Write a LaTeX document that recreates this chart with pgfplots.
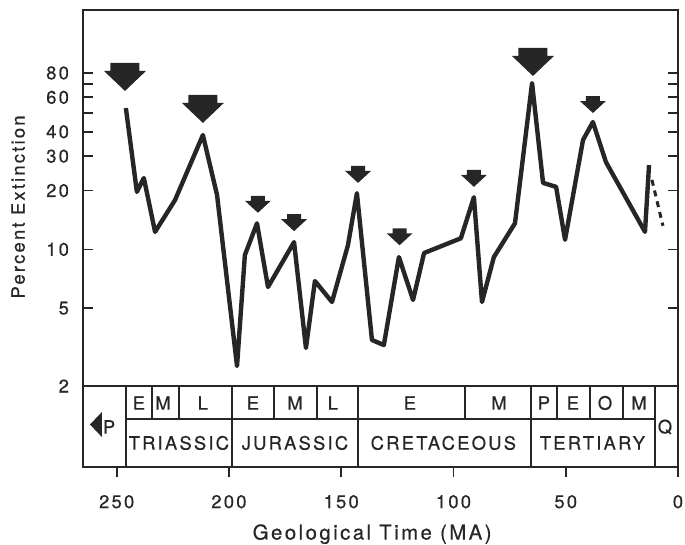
\documentclass[border=0pt]{standalone}
\usepackage{fontspec}
\setmainfont[LetterSpace=12, FakeBold=0.5]{TeX Gyre Heros}
\usepackage{pgfplots}
\pgfplotsset{compat=1.18}

% block arrows pointing down, tip at the data point
\pgfdeclareplotmark{bigdown}{%
  \pgfpathmoveto{\pgfpoint{0pt}{0pt}}%
  \pgfpathlineto{\pgfpoint{10.5pt}{10pt}}%
  \pgfpathlineto{\pgfpoint{7.25pt}{10pt}}%
  \pgfpathlineto{\pgfpoint{7.25pt}{14pt}}%
  \pgfpathlineto{\pgfpoint{-7.25pt}{14pt}}%
  \pgfpathlineto{\pgfpoint{-7.25pt}{10pt}}%
  \pgfpathlineto{\pgfpoint{-10.5pt}{10pt}}%
  \pgfpathclose
  \pgfusepathqfill}
\pgfdeclareplotmark{smalldown}{%
  \pgfpathmoveto{\pgfpoint{0pt}{0pt}}%
  \pgfpathlineto{\pgfpoint{6.5pt}{6pt}}%
  \pgfpathlineto{\pgfpoint{3.5pt}{6pt}}%
  \pgfpathlineto{\pgfpoint{3.5pt}{8.5pt}}%
  \pgfpathlineto{\pgfpoint{-3.5pt}{8.5pt}}%
  \pgfpathlineto{\pgfpoint{-3.5pt}{6pt}}%
  \pgfpathlineto{\pgfpoint{-6.5pt}{6pt}}%
  \pgfpathclose
  \pgfusepathqfill}

\begin{document}
\begin{tikzpicture}
\begin{axis}[
    name=ax,
    scale only axis,
    width=297.5pt, height=228.5pt,
    xmin=0, xmax=265, x dir=reverse,
    ymode=log, ymin=0.77, ymax=168,
    axis line style={line width=1pt, black!85},
    xtick={0,50,100,150,200,250},
    xticklabels={0,50,100,150,200,250},
    xtick pos=bottom,
    ytick={2,5,10,20,30,40,50,60,70,80},
    yticklabels={2,5,10,20,30,40,,60,,80},
    minor ytick={},
    major tick length=5pt,
    tick style={line width=0.9pt, black!85},
    x tick style={yshift=-5pt},
    ticklabel style={font=\fontsize{9.2}{11}\selectfont, black!85},
    xticklabel style={yshift=-10.5pt},
    yticklabel style={xshift=-3.5pt},
    xlabel={Geological Time (MA)},
    ylabel={Percent Extinction},
    xlabel style={font=\fontsize{10.2}{12}\selectfont, black!85,
        at={(axis description cs:0.486,-0.147)}, anchor=center},
    ylabel style={font=\fontsize{9.2}{11}\selectfont, black!85,
        at={(axis description cs:-0.109,0.569)}, anchor=center},
]

\addplot[line width=2.2pt, black!85, line join=round] coordinates {
    (245.9,52.9) (241,19.7) (237.9,23.2) (232.9,12.3) (224,17.9)
    (211.6,38.5) (205.3,19.0) (196.4,2.53) (192.9,9.36) (187.5,13.6)
    (182.6,6.42) (171,10.9) (165.7,3.13) (161.7,6.89) (154.1,5.38)
    (147,10.5) (143,19.4) (136.3,3.44) (131,3.24) (124.3,9.14)
    (118,5.51) (113.1,9.58) (96.7,11.4) (90.9,18.5) (87.3,5.38)
    (82,9.14) (72.6,13.6) (65,71) (60.1,21.9) (54.3,20.9)
    (50.3,11.2) (42.3,36.3) (37.9,44.9) (32.1,28) (14.7,12.3)
    (12.9,27)
};
\addplot[line width=1.5pt, black!85, dash pattern=on 3pt off 2.5pt] coordinates {
    (11.6,22.7) (6.7,13.2)
};

\addplot[only marks, mark=bigdown, black!85] coordinates {
    (246.3,64.7) (211.6,44.4) (64.6,77.2)
};
\addplot[only marks, mark=smalldown, black!85] coordinates {
    (187.1,15.4) (171,12.4) (142.5,21.9) (124,10.5) (90.9,20.9) (37.9,49.9)
};

% time scale
\draw[line width=0.9pt, black!85] (axis cs:265,2) -- (axis cs:0,2);
\draw[line width=0.9pt, black!85] (axis cs:245.9,1.355) -- (axis cs:10.2,1.355);
\pgfplotsinvokeforeach{245.9,198.7,142.5,65.5,10.2}{
    \draw[line width=0.9pt, black!85] (axis cs:#1,0.77) -- (axis cs:#1,2);
}
\pgfplotsinvokeforeach{234.3,222.3,180,160.8,94.9,53.9,39.2,24.5}{
    \draw[line width=0.9pt, black!85] (axis cs:#1,1.355) -- (axis cs:#1,2);
}
\begin{scope}[every node/.style={font=\fontsize{9.2}{11}\selectfont, text=black!85, anchor=center, inner sep=0pt}]
\node at (axis cs:240.1,1.637) {E};
\node at (axis cs:229.4,1.637) {M};
\node at (axis cs:211.6,1.637) {L};
\node at (axis cs:189.3,1.637) {E};
\node at (axis cs:170.6,1.637) {M};
\node at (axis cs:153.7,1.637) {L};
\node at (axis cs:119.4,1.637) {E};
\node at (axis cs:79.7,1.637) {M};
\node at (axis cs:59.7,1.637) {P};
\node at (axis cs:46.8,1.637) {E};
\node at (axis cs:32.5,1.637) {O};
\node at (axis cs:17.4,1.637) {M};
\node at (axis cs:222.3,1.022) {TRIASSIC};
\node at (axis cs:170.6,1.022) {JURASSIC};
\node at (axis cs:104.5,1.022) {CRETACEOUS};
\node at (axis cs:38.1,1.022) {TERTIARY};
\node at (axis cs:5.8,1.234) {Q};
\node at (axis cs:253.4,1.234) {P};
\end{scope}
\fill[black!85] (axis cs:261.9,1.27) -- (axis cs:256.6,1.47) -- (axis cs:256.6,1.097) -- cycle;
\end{axis}
\pgfresetboundingbox
\path[use as bounding box] ([xshift=-41.5pt,yshift=-39pt]ax.south west) rectangle ([xshift=3.5pt,yshift=5pt]ax.north east);
\end{tikzpicture}
\end{document}
